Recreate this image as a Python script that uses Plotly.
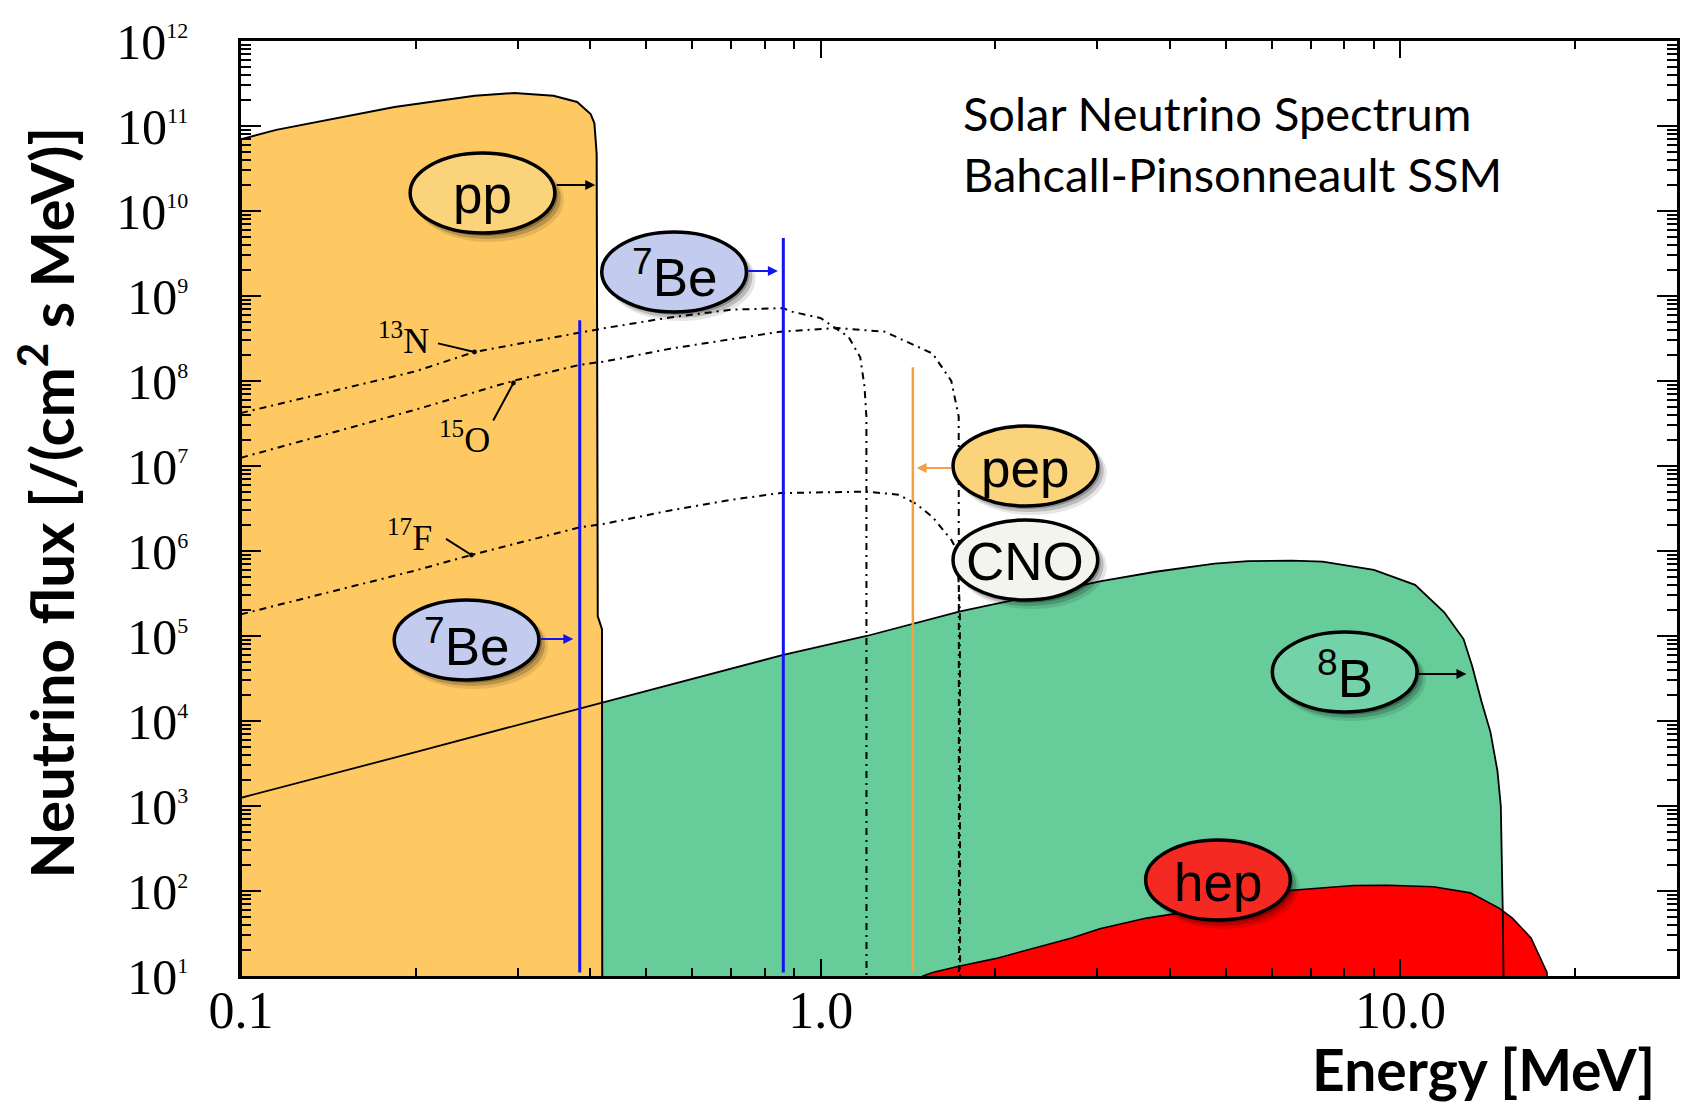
import plotly.graph_objects as go

# ---------------- data ----------------
FLOOR = 1.0          # below the axis minimum, used to close filled areas
LINE_BASE = 11.0     # bottom end of the mono-energetic lines

PP_E = [0.100, 0.115, 0.184, 0.253, 0.296, 0.346, 0.380, 0.401, 0.407, 0.4107, 0.4125, 0.4195, 0.4200]
PP_F = [7.0e10, 9.0e10, 1.67e11, 2.27e11, 2.44e11, 2.27e11, 1.92e11, 1.38e11, 1.08e11, 4.7e10, 1.7e5, 1.2e5, FLOOR]

B8_E = [0.10, 0.20, 0.42, 0.862, 1.2, 1.74, 2.4, 3.03, 3.78, 4.78, 5.46, 6.5, 7.34, 9.0,
        10.6, 11.9, 12.85, 13.3, 13.8, 14.3, 14.7, 14.9, 15.02, 15.12]
B8_F = [1.25e3, 4.3e3, 1.65e4, 6.0e4, 1.0e5, 1.95e5, 3.1e5, 4.4e5, 5.7e5, 7.1e5, 7.6e5, 7.7e5, 7.5e5, 6.0e5,
        4.0e5, 1.9e5, 9.2e4, 4.4e4, 1.7e4, 7.4e3, 2.6e3, 1.0e3, 50, FLOOR]

HEP_E = [1.50, 1.56, 1.73, 2.0, 2.2, 2.71, 3.03, 3.65, 4.23, 5.0, 5.8, 6.5, 8.3, 9.5,
         11.4, 13.2, 14.8, 15.6, 16.8, 17.4, 17.9, 18.05]
HEP_F = [10, 11, 13, 16, 19, 28, 36, 48, 56, 72, 88, 102, 116, 117,
         112, 95, 63, 48, 28, 17, 11, FLOOR]

N13_E = [0.10, 0.20, 0.253, 0.384, 0.425, 0.55, 0.70, 0.862, 0.887, 1.0, 1.05, 1.117, 1.17, 1.19, 1.199, 1.1995]
N13_F = [4.2e7, 1.3e8, 2.2e8, 3.7e8, 4.2e8, 5.6e8, 6.9e8, 7.2e8, 6.6e8, 5.5e8, 4.4e8, 3.3e8, 1.9e8, 8.6e7, 3.8e7, FLOOR]

O15_E = [0.10, 0.20, 0.294, 0.384, 0.425, 0.55, 0.70, 0.852, 1.066, 1.29, 1.56, 1.68, 1.73, 1.732]
O15_F = [1.25e7, 4.6e7, 1.0e8, 1.55e8, 1.7e8, 2.4e8, 3.1e8, 3.8e8, 4.2e8, 3.8e8, 2.1e8, 1.0e8, 3.8e7, FLOOR]

F17_E = [0.10, 0.20, 0.25, 0.384, 0.425, 0.55, 0.70, 0.852, 1.2, 1.36, 1.46, 1.56, 1.68, 1.72, 1.738, 1.740]
F17_F = [1.8e5, 5.9e5, 9.0e5, 1.9e6, 2.1e6, 3.0e6, 4.0e6, 4.8e6, 5.0e6, 4.6e6, 3.6e6, 2.5e6, 1.35e6, 1.0e6, 2e5, FLOOR]

BE7_E = [0.384, 0.862]
BE7_F = [5.2e8, 4.8e9]
PEP_E = [1.442]
PEP_F = [1.45e8]

X_TICKS = [0.1, 1.0, 10.0]
X_TICKTEXT = ["0.1", "1.0", "10.0"]
Y_EXPONENTS = list(range(1, 13))

# ---------------- layout geometry ----------------
W, H = 1683, 1106
ML, MR, MT, MB = 241, 3, 41, 130
PW, PH = W - ML - MR, H - MT - MB


def xp(px):
    return (px - ML) / PW


def yp(py):
    return (H - MB - py) / PH


ORANGE = "#FEC962"
GREEN = "#66CC99"
RED = "#FF0000"
BLUE = "#1414F0"
PEPC = "#F5A043"

fig = go.Figure()

# 8B filled area (behind pp)
fig.add_trace(go.Scatter(x=[B8_E[0]] + B8_E, y=[FLOOR] + B8_F, fill="toself", fillcolor=GREEN,
                         mode="lines", line=dict(width=0), hoverinfo="skip"))
# hep filled area
fig.add_trace(go.Scatter(x=[HEP_E[0]] + HEP_E, y=[FLOOR] + HEP_F, fill="toself", fillcolor=RED,
                         mode="lines", line=dict(color="black", width=1.6), hoverinfo="skip"))
# pp filled area
fig.add_trace(go.Scatter(x=[PP_E[0]] + PP_E, y=[FLOOR] + PP_F, fill="toself", fillcolor=ORANGE,
                         mode="lines", line=dict(color="black", width=2), hoverinfo="skip"))
# 8B outline on top
fig.add_trace(go.Scatter(x=B8_E, y=B8_F, mode="lines", line=dict(color="black", width=1.8),
                         hoverinfo="skip"))
# CNO spectra
for e, f in [(N13_E, N13_F), (O15_E, O15_F), (F17_E, F17_F)]:
    fig.add_trace(go.Scatter(x=e, y=f, mode="lines",
                             line=dict(color="black", width=2, dash="7px,5px,2px,5px"),
                             hoverinfo="skip"))
# 7Be lines
for e, f in zip(BE7_E, BE7_F):
    fig.add_trace(go.Scatter(x=[e, e], y=[LINE_BASE, f], mode="lines",
                             line=dict(color=BLUE, width=3), hoverinfo="skip"))
# pep line
for e, f in zip(PEP_E, PEP_F):
    fig.add_trace(go.Scatter(x=[e, e], y=[LINE_BASE, f], mode="lines",
                             line=dict(color=PEPC, width=2.5), hoverinfo="skip"))

shapes = []
annotations = []

# ellipse labels: text, centre (px), fill, arrow tail, arrow head, arrow colour
EW, EH = 145, 80
LABELS = [
    ("pp", 483, 193, "#FAD37B", (556, 185), (596, 185), "black"),
    ("<sup>7</sup>Be", 675, 272, "#C3CBEF", (747, 271), (779, 271), BLUE),
    ("<sup>7</sup>Be", 467, 640, "#C3CBEF", (540, 639), (574, 639), BLUE),
    ("pep", 1027, 466, "#FAD37B", (954, 468), (918, 468), PEPC),
    ("CNO", 1027, 560, "#F4F4EF", None, None, None),
    ("<sup>8</sup>B", 1347, 672, "#74D2A8", (1420, 674), (1469, 674), "black"),
    ("hep", 1220, 880, "#F42A22", None, None, None),
]
for text, cx, cy, fc, tail, head, ac in LABELS:
    for off, grow, op in [(7, 4, 0.10), (5, 2, 0.18), (3, 0, 0.25)]:
        shapes.append(dict(type="circle", xref="paper", yref="paper", layer="above",
                           x0=xp(cx - EW / 2 - grow / 2 + off), x1=xp(cx + EW / 2 + grow / 2 + off),
                           y0=yp(cy + EH / 2 + grow / 2 + off), y1=yp(cy - EH / 2 - grow / 2 + off),
                           fillcolor="rgba(0,0,0,%.2f)" % op, line=dict(width=0)))
    shapes.append(dict(type="circle", xref="paper", yref="paper", layer="above",
                       x0=xp(cx - EW / 2), x1=xp(cx + EW / 2),
                       y0=yp(cy + EH / 2), y1=yp(cy - EH / 2),
                       fillcolor=fc, line=dict(color="black", width=3.5)))
    annotations.append(dict(x=xp(cx), y=yp(cy + 2), xref="paper", yref="paper", text=text,
                            showarrow=False, xanchor="center", yanchor="middle",
                            font=dict(family="Liberation Sans, Arial", size=53, color="black")))
    if tail is not None:
        annotations.append(dict(x=xp(head[0]), y=yp(head[1]), xref="paper", yref="paper",
                                ax=tail[0] - head[0], ay=tail[1] - head[1], axref="pixel", ayref="pixel",
                                text="", showarrow=True, arrowhead=2, arrowsize=1.0,
                                arrowwidth=2, arrowcolor=ac))

# CNO isotope labels with leader lines
ISO = [
    ("<sup>13</sup>N", 431, 338, (437, 343), (475, 352)),
    ("<sup>15</sup>O", 493, 437, (493, 422), (514, 383)),
    ("<sup>17</sup>F", 434, 535, (445, 538), (472, 555)),
]
for text, rx, cy, p0, p1 in ISO:
    annotations.append(dict(x=xp(rx), y=yp(cy), xref="paper", yref="paper", text=text,
                            showarrow=False, xanchor="right", yanchor="middle",
                            font=dict(family="Liberation Serif, Times New Roman", size=36, color="black")))
    annotations.append(dict(x=xp(p1[0]), y=yp(p1[1]), xref="paper", yref="paper",
                            ax=p0[0] - p1[0], ay=p0[1] - p1[1], axref="pixel", ayref="pixel",
                            text="", showarrow=True, arrowhead=6, arrowsize=0.6,
                            arrowwidth=2, arrowcolor="black"))

# titles
annotations += [
    dict(x=xp(963), y=yp(113), xref="paper", yref="paper", text="Solar Neutrino Spectrum",
         showarrow=False, xanchor="left", yanchor="middle",
         font=dict(family="Lato, Open Sans", size=47, color="black")),
    dict(x=xp(963), y=yp(174), xref="paper", yref="paper", text="Bahcall-Pinsonneault SSM",
         showarrow=False, xanchor="left", yanchor="middle",
         font=dict(family="Lato, Open Sans", size=47, color="black")),
    dict(x=xp(46), y=yp(502), xref="paper", yref="paper", textangle=-90,
         text="<b>Neutrino flux [/(cm<sup>2</sup> s MeV)]</b>",
         showarrow=False, xanchor="center", yanchor="middle",
         font=dict(family="Lato, Open Sans", size=60, color="black")),
    dict(x=xp(1486), y=yp(1069), xref="paper", yref="paper", text="<b>Energy [MeV]</b>",
         showarrow=False, xanchor="center", yanchor="middle", borderpad=0,
         font=dict(family="Lato, Open Sans", size=57, color="black")),
]

x_minor = [m * 10.0 ** k for k in (-1, 0, 1) for m in range(2, 10) if m * 10.0 ** k < 30]
y_minor = [m * 10.0 ** k for k in range(1, 12) for m in range(2, 10)]

fig.update_layout(
    width=W, height=H, margin=dict(l=ML, r=MR, t=MT, b=MB),
    paper_bgcolor="white", plot_bgcolor="white", showlegend=False, hovermode=False,
    shapes=shapes, annotations=annotations,
    xaxis=dict(type="log", range=[-1, 1.4771], showgrid=False, zeroline=False,
               showline=True, linecolor="black", linewidth=2.5, mirror="allticks",
               ticks="inside", ticklen=17, tickwidth=2, tickcolor="black",
               tickmode="array", tickvals=X_TICKS, ticktext=X_TICKTEXT,
               tickfont=dict(family="Liberation Serif, Times New Roman", size=52, color="black"),
               ticklabelstandoff=-13,
               minor=dict(tickmode="array", tickvals=x_minor, ticks="inside", ticklen=8,
                          tickwidth=2, tickcolor="black", showgrid=False)),
    yaxis=dict(type="log", range=[1, 12], showgrid=False, zeroline=False,
               showline=True, linecolor="black", linewidth=2.5, mirror="allticks",
               ticks="inside", ticklen=20, tickwidth=2, tickcolor="black",
               tickmode="array", tickvals=[10.0 ** k for k in Y_EXPONENTS],
               ticktext=["10<sup><span style='font-size:22px'>%d</span></sup>" % k for k in Y_EXPONENTS],
               tickfont=dict(family="Liberation Serif, Times New Roman", size=50, color="black"),
               ticklabelstandoff=40,
               minor=dict(tickmode="array", tickvals=y_minor, ticks="inside", ticklen=10,
                          tickwidth=1.8, tickcolor="black", showgrid=False)),
)

fig.write_html("out.html")
